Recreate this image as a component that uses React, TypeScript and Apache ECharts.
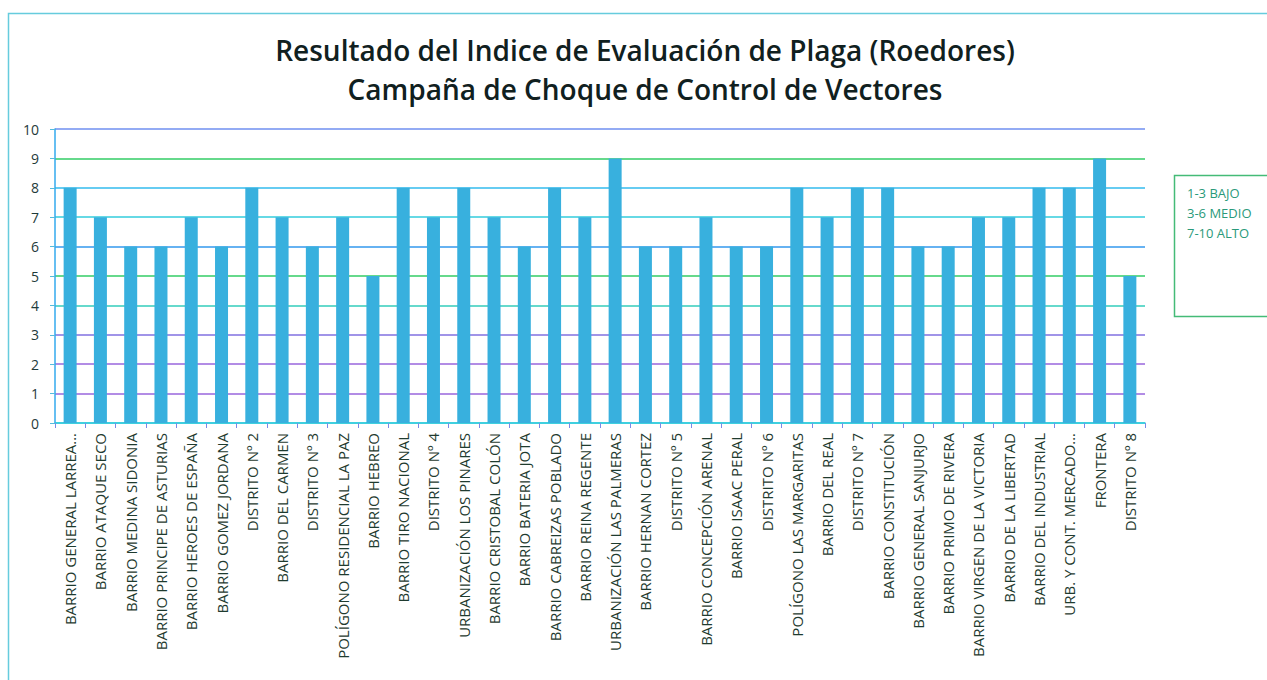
import React, { useEffect, useRef } from "react";
import * as echarts from "echarts";

const titleLines = [
  "Resultado del Indice de Evaluación de Plaga (Roedores)",
  "Campaña de Choque de Control de Vectores",
];

const categories = [
  "BARRIO GENERAL LARREA…",
  "BARRIO ATAQUE SECO",
  "BARRIO MEDINA SIDONIA",
  "BARRIO PRINCIPE DE ASTURIAS",
  "BARRIO HEROES DE ESPAÑA",
  "BARRIO GOMEZ JORDANA",
  "DISTRITO Nº 2",
  "BARRIO DEL CARMEN",
  "DISTRITO Nº 3",
  "POLÍGONO RESIDENCIAL LA PAZ",
  "BARRIO HEBREO",
  "BARRIO TIRO NACIONAL",
  "DISTRITO Nº 4",
  "URBANIZACIÓN LOS PINARES",
  "BARRIO CRISTOBAL COLÓN",
  "BARRIO BATERIA JOTA",
  "BARRIO CABREIZAS POBLADO",
  "BARRIO REINA REGENTE",
  "URBANIZACIÓN LAS PALMERAS",
  "BARRIO HERNAN CORTEZ",
  "DISTRITO Nº 5",
  "BARRIO CONCEPCIÓN ARENAL",
  "BARRIO ISAAC PERAL",
  "DISTRITO Nº 6",
  "POLÍGONO LAS MARGARITAS",
  "BARRIO DEL REAL",
  "DISTRITO Nº 7",
  "BARRIO CONSTITUCIÓN",
  "BARRIO GENERAL SANJURJO",
  "BARRIO PRIMO DE RIVERA",
  "BARRIO VIRGEN DE LA VICTORIA",
  "BARRIO DE LA LIBERTAD",
  "BARRIO DEL INDUSTRIAL",
  "URB. Y CONT. MERCADO…",
  "FRONTERA",
  "DISTRITO Nº 8",
];

const values = [
  8, 7, 6, 6, 7, 6, 8, 7, 6, 7, 5, 8, 7, 8, 7, 6, 8, 7, 9, 6, 6, 7, 6, 6, 8, 7,
  8, 8, 6, 6, 7, 7, 8, 8, 9, 5,
];

const legendLines = ["1-3 BAJO", "3-6 MEDIO", "7-10 ALTO"];

const gridLineColors = [
  "#33ccdd",
  "#9966dd",
  "#9966dd",
  "#8070e0",
  "#33ccbb",
  "#33cc66",
  "#3399ee",
  "#33ccdd",
  "#33bbee",
  "#33cc66",
  "#6f8ff0",
];

export default function App() {
  const ref = useRef<HTMLDivElement>(null);

  useEffect(() => {
    if (!ref.current) return;
    const chart = echarts.init(ref.current, undefined, { renderer: "svg" });
    const font = "'Open Sans', sans-serif";
    chart.setOption({
      animation: false,
      backgroundColor: "#ffffff",
      title: {
        text: titleLines.join("\n"),
        left: 640,
        textAlign: "center",
        top: 25,
        textStyle: {
          fontFamily: font,
          fontSize: 28,
          fontWeight: 600,
          color: "#102020",
          lineHeight: 39,
        },
      },
      grid: { left: 55, right: 122, top: 129, bottom: 257, containLabel: false },
      xAxis: {
        type: "category",
        data: categories,
        axisLine: { lineStyle: { color: "#33ccdd", width: 1.5 } },
        axisTick: {
          show: true,
          alignWithLabel: false,
          length: 5,
          lineStyle: { color: "#7a8ae8" },
        },
        axisLabel: {
          rotate: 90,
          interval: 0,
          margin: 10,
          fontFamily: font,
          fontSize: 15,
          color: "#1f3b2f",
        },
      },
      yAxis: {
        type: "value",
        min: 0,
        max: 10,
        interval: 1,
        axisLine: { show: true, lineStyle: { color: "#33aaee", width: 1.5 } },
        axisTick: { show: true, length: 5, lineStyle: { color: "#55bbdd" } },
        axisLabel: {
          margin: 16,
          fontFamily: font,
          fontSize: 14,
          color: "#1f3b3b",
        },
        splitLine: {
          show: true,
          showMinLine: true,
          lineStyle: { color: gridLineColors, width: 1.5 },
        },
      },
      series: [
        {
          type: "bar",
          data: values,
          barWidth: 13,
          itemStyle: { color: "#38b0de" },
        },
      ],
      graphic: [
        {
          type: "rect",
          shape: { x: 8.5, y: 13.5, width: 1400, height: 800 },
          style: { fill: "none", stroke: "#66ccdd", lineWidth: 1.5 },
          silent: true,
        },
        {
          type: "rect",
          shape: { x: 1174.5, y: 175.5, width: 120, height: 141 },
          style: { fill: "#ffffff", stroke: "#44bb77", lineWidth: 1.5 },
          silent: true,
        },
        ...legendLines.map((t, i) => ({
          type: "text",
          x: 1187,
          y: 193 + i * 20,
          style: {
            text: t,
            fontFamily: font,
            fontSize: 13,
            fill: "#2a9a7a",
            verticalAlign: "middle",
          },
          silent: true,
        })),
      ],
    });
    return () => chart.dispose();
  }, []);

  return (
    <div
      ref={ref}
      style={{ position: "fixed", left: 0, top: 0, width: 1267, height: 680 }}
    />
  );
}
